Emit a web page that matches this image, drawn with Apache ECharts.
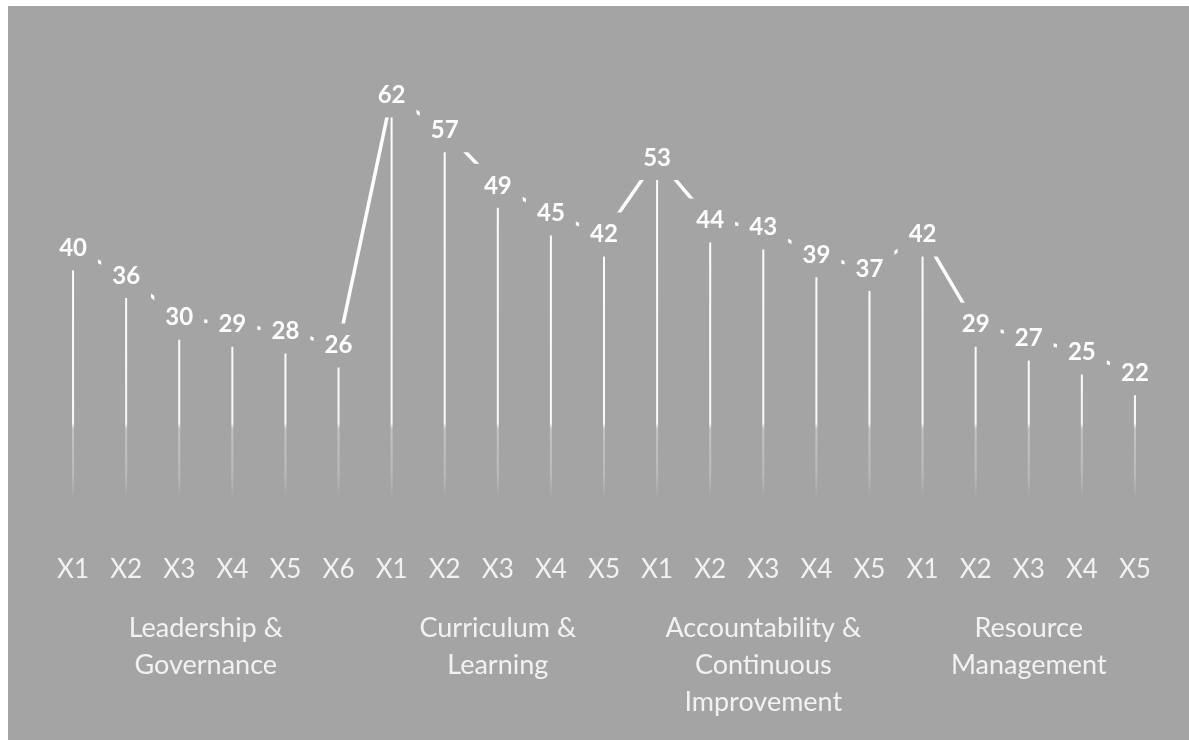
<!DOCTYPE html>
<html>
<head>
<meta charset="utf-8">
<script src="https://cdn.jsdelivr.net/npm/echarts@6/dist/echarts.min.js"></script>
<style>
  html, body { margin: 0; padding: 0; background: #ffffff; }
  #chart { width: 1189px; height: 740px; }
</style>
</head>
<body>
<div id="chart"></div>
<script>
// ---- data ----
var categories = ['X1','X2','X3','X4','X5','X6',
                  'X1','X2','X3','X4','X5',
                  'X1','X2','X3','X4','X5',
                  'X1','X2','X3','X4','X5'];
var values = [40, 36, 30, 29, 28, 26,
              62, 57, 49, 45, 42,
              53, 44, 43, 39, 37,
              42, 29, 27, 25, 22];
var groupNames = ['Leadership &\nGovernance', 'Curriculum &\nLearning',
                  'Accountability &\nContinuous\nImprovement', 'Resource\nManagement'];
var groupSizes = [6, 5, 5, 5];

// group spans (start/end category index)
var groupSpans = [];
var idx = 0;
for (var i = 0; i < groupSizes.length; i++) {
  groupSpans.push([idx, idx + groupSizes[i] - 1]);
  idx += groupSizes[i];
}

var BG = '#a4a4a4';
var FONT = 'Lato, "Open Sans", sans-serif';
var chart = echarts.init(document.getElementById('chart'));

var dropGradient = {
  type: 'linear', x: 0, y: 0, x2: 0, y2: 526, global: true,
  colorStops: [
    { offset: 0, color: 'rgba(255,255,255,1)' },
    { offset: 0.805, color: 'rgba(255,255,255,0.95)' },
    { offset: 0.815, color: 'rgba(255,255,255,0.35)' },
    { offset: 0.9, color: 'rgba(255,255,255,0.25)' },
    { offset: 0.95, color: 'rgba(255,255,255,0)' },
    { offset: 1, color: 'rgba(255,255,255,0)' }
  ]
};

chart.setOption({
  backgroundColor: '#ffffff',
  animation: false,
  graphic: [{
    type: 'rect', z: -10,
    shape: { x: 8, y: 6, width: 1181, height: 734 },
    style: { fill: BG }
  }],
  grid: { left: 46.5, right: 27.5, top: 40, bottom: 214 },
  xAxis: {
    type: 'category',
    data: categories,
    boundaryGap: true,
    axisLine: { show: false },
    axisTick: { show: false },
    axisLabel: {
      margin: 31,
      color: '#f2f2f2',
      fontSize: 26,
      fontFamily: FONT
    }
  },
  yAxis: {
    type: 'value', min: 0, max: 70,
    show: false,
    splitLine: { show: false }
  },
  series: [
    {
      type: 'bar',
      z: 1,
      data: values,
      barWidth: 2,
      itemStyle: { color: dropGradient },
      silent: true
    },
    {
      type: 'line',
      z: 3,
      data: values,
      symbol: 'circle',
      symbolSize: 2,
      itemStyle: { color: '#ffffff' },
      lineStyle: { color: '#ffffff', width: 3.5 },
      label: {
        show: true,
        position: 'inside',
        color: '#ffffff',
        fontSize: 24,
        fontWeight: 'bold',
        fontFamily: FONT,
        backgroundColor: BG,
        padding: [10, 11]
      }
    },
    {
      type: 'custom',
      z: 4,
      clip: false,
      silent: true,
      data: groupSpans,
      encode: { x: [0, 1] },
      renderItem: function (params, api) {
        var s = api.coord([api.value(0), 0]);
        var e = api.coord([api.value(1), 0]);
        return {
          type: 'text',
          x: (s[0] + e[0]) / 2,
          y: s[1] + 84,
          style: {
            text: groupNames[params.dataIndex],
            textAlign: 'center',
            textVerticalAlign: 'top',
            fill: '#f2f2f2',
            fontSize: 27,
            lineHeight: 37,
            fontFamily: FONT
          }
        };
      }
    }
  ]
});
</script>
</body>
</html>
